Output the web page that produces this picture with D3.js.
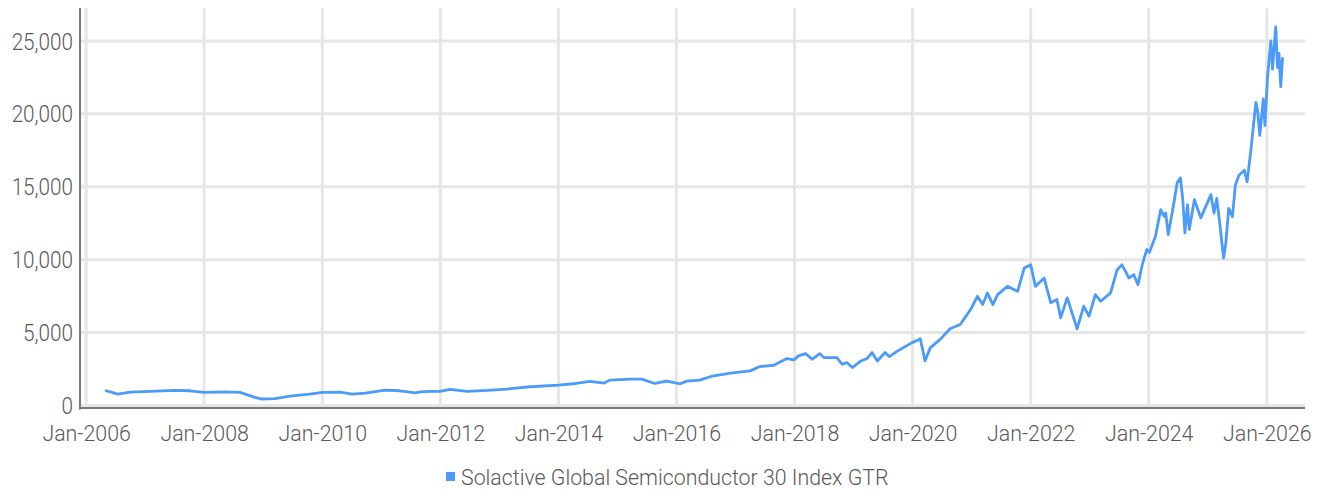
<!DOCTYPE html>
<html>
<head>
<meta charset="utf-8">
<script src="https://cdn.jsdelivr.net/npm/d3@7"></script>
<style>
  html, body { margin: 0; padding: 0; background: #fff; }
  svg { display: block; }
  text { font-family: Roboto, "Noto Sans", sans-serif; font-weight: 300; fill: #595959; }
</style>
</head>
<body>
<svg id="chart" width="1323" height="490"></svg>
<script>
const seriesName = "Solactive Global Semiconductor 30 Index GTR";

const dates = [
  "2006-05-05","2006-06-10","2006-07-15","2006-10-01","2007-02-01","2007-07-05","2007-10-05",
  "2008-01-01","2008-05-10","2008-08-10","2008-11-10","2008-12-25","2009-03-15","2009-06-15",
  "2009-10-15","2010-01-01","2010-04-20","2010-07-05","2010-09-25","2011-01-25","2011-04-25",
  "2011-08-01","2011-08-30","2011-11-01","2012-01-01","2012-03-01","2012-06-15","2012-10-20",
  "2013-02-15","2013-07-10","2014-01-01","2014-04-20","2014-07-15","2014-10-10","2014-11-15",
  "2015-03-20","2015-06-01","2015-08-20","2015-11-01","2016-01-25","2016-03-05","2016-05-25",
  "2016-08-01","2016-12-01","2017-04-01","2017-06-01","2017-08-25","2017-11-15","2017-12-28",
  "2018-01-25","2018-03-10","2018-04-20","2018-06-05","2018-07-01","2018-09-20","2018-10-22",
  "2018-11-20","2018-12-24","2019-02-15","2019-03-25","2019-04-25","2019-05-28","2019-07-15",
  "2019-08-10","2019-09-15","2019-11-05","2019-12-28","2020-02-05","2020-02-18","2020-03-18",
  "2020-04-20","2020-06-20","2020-08-20","2020-10-22","2020-12-25","2021-02-05","2021-03-10",
  "2021-04-08","2021-05-12","2021-06-10","2021-08-10","2021-10-12","2021-11-22","2022-01-01",
  "2022-01-30","2022-03-25","2022-05-05","2022-06-12","2022-07-05","2022-08-15","2022-10-15",
  "2022-11-25","2022-12-28","2023-02-05","2023-03-10","2023-05-10","2023-06-20","2023-07-20",
  "2023-09-01","2023-10-01","2023-10-27","2023-11-22","2023-12-20","2024-01-05","2024-02-12",
  "2024-03-15","2024-04-05","2024-04-15","2024-05-01","2024-06-05","2024-06-25","2024-07-15",
  "2024-07-30","2024-08-12","2024-08-28","2024-09-08","2024-10-10","2024-11-18","2024-12-20",
  "2025-01-20","2025-02-08","2025-02-25","2025-03-18","2025-04-08","2025-04-22","2025-05-10",
  "2025-06-02","2025-06-20","2025-07-12","2025-08-15","2025-09-01","2025-09-25","2025-10-25",
  "2025-11-05","2025-11-18","2025-12-10","2025-12-20","2026-01-05","2026-01-26","2026-02-05",
  "2026-02-25","2026-03-08","2026-03-17","2026-03-28","2026-04-08"
];

const values = [
  1010, 900, 785, 920, 970, 1035, 1010,
  900, 940, 900, 560, 445, 465, 650,
  785, 900, 920, 785, 850, 1060, 1010,
  870, 940, 970, 970, 1100, 970, 1035,
  1125, 1285, 1400, 1510, 1650, 1535, 1740,
  1810, 1810, 1510, 1670, 1490, 1670, 1740,
  1990, 2215, 2375, 2670, 2760, 3220, 3125,
  3400, 3560, 3170, 3560, 3290, 3290, 2830,
  2945, 2600, 3055, 3220, 3630, 3055, 3630,
  3355, 3630, 3970, 4310, 4490, 4580, 3060,
  3970, 4535, 5265, 5560, 6580, 7490, 6920,
  7720, 6920, 7600, 8170, 7830, 9425, 9650,
  8170, 8740, 7040, 7265, 6015, 7380, 5265,
  6805, 6125, 7600, 7150, 7720, 9310, 9650,
  8740, 8970, 8290, 9650, 10700, 10500, 11600,
  13430, 12980, 13200, 11720, 13900, 15270, 15610,
  14120, 11840, 13780, 12070, 14120, 12870, 13670,
  14460, 13200, 14200, 12270, 10110, 11130, 13520,
  12950, 15110, 15790, 16130, 15330, 17610, 20790,
  20220, 18520, 21020, 19200, 22500, 25000, 23070,
  25970, 23180, 24150, 21870, 23800
];

const yTicks = [0, 5000, 10000, 15000, 20000, 25000];
const xTickYears = [2006, 2008, 2010, 2012, 2014, 2016, 2018, 2020, 2022, 2024, 2026];

const parse = d3.timeParse("%Y-%m-%d");
const data = dates.map((d, i) => ({ date: parse(d), value: values[i] }));

const svg = d3.select("#chart");
const mLeft = 80, mRight = 1305, mTop = 8, mBottom = 405.5;
const yScaleX = 0.9, xScaleX = 0.93, legScaleX = 0.97;

const x = d3.scaleTime()
  .domain([new Date(2005, 10, 24), new Date(2026, 7, 25)])
  .range([mLeft, mRight]);
const y = d3.scaleLinear()
  .domain([0, 27260])
  .range([mBottom, mTop]);

const gridColor = "#e6e6e6";
const lineColor = "#4c9bf9";
const xTicks = xTickYears.map(yr => new Date(yr, 0, 1));

// horizontal grid
svg.append("g").selectAll("line").data(yTicks).join("line")
  .attr("x1", mLeft).attr("x2", mRight)
  .attr("y1", d => y(d)).attr("y2", d => y(d))
  .attr("stroke", gridColor).attr("stroke-width", 3);

// vertical grid
svg.append("g").selectAll("line").data(xTicks).join("line")
  .attr("x1", d => x(d)).attr("x2", d => x(d))
  .attr("y1", mTop).attr("y2", mBottom + 1)
  .attr("stroke", gridColor).attr("stroke-width", 3);

// line
const line = d3.line().x(d => x(d.date)).y(d => y(d.value));
svg.append("path").datum(data)
  .attr("fill", "none")
  .attr("stroke", lineColor)
  .attr("stroke-width", 2.8)
  .attr("stroke-linejoin", "round")
  .attr("stroke-linecap", "round")
  .attr("d", line);

// y axis
const yAxis = svg.append("g").attr("transform", `translate(${mLeft},0)`)
  .call(d3.axisLeft(y).tickValues(yTicks).tickFormat(d3.format(",")).tickSize(0).tickPadding(7));
yAxis.select(".domain").remove();
yAxis.selectAll("text")
  .attr("font-size", "23px")
  .attr("dy", "0.35em")
  .attr("font-family", "Roboto, sans-serif")
  .attr("transform", `scale(${yScaleX},1)`)
  .attr("x", -7 / yScaleX);
svg.append("line")
  .attr("x1", mLeft).attr("x2", mLeft)
  .attr("y1", mTop).attr("y2", mBottom + 4)
  .attr("stroke", "#7a7a7a").attr("stroke-width", 2);

// x axis
const xAxis = svg.append("g").attr("transform", `translate(0,${mBottom + 2.5})`)
  .call(d3.axisBottom(x).tickValues(xTicks).tickFormat(d3.timeFormat("%b-%Y")).tickSize(0).tickPadding(0));
xAxis.select(".domain").remove();
xAxis.selectAll("text")
  .attr("font-size", "23px")
  .attr("font-family", "Roboto, sans-serif")
  .attr("dy", null)
  .attr("y", 33)
  .attr("transform", `scale(${xScaleX},1)`);
svg.append("line")
  .attr("x1", mLeft - 1).attr("x2", mRight)
  .attr("y1", mBottom + 2.5).attr("y2", mBottom + 2.5)
  .attr("stroke", "#7a7a7a").attr("stroke-width", 2);

// legend
const legend = svg.append("g");
legend.append("rect")
  .attr("x", 446).attr("y", 472).attr("width", 9).attr("height", 9)
  .attr("fill", lineColor);
legend.append("text")
  .attr("x", 461 / legScaleX).attr("y", 485)
  .attr("font-size", "22px")
  .attr("transform", `scale(${legScaleX},1)`)
  .text(seriesName);
</script>
</body>
</html>
